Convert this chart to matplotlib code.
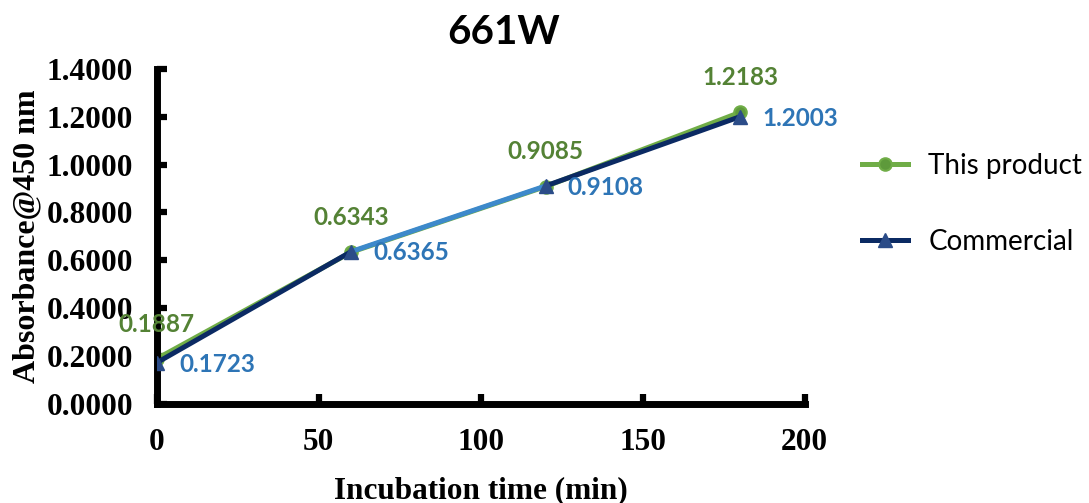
import matplotlib
matplotlib.use("Agg")
import matplotlib.pyplot as plt

times = [0, 60, 120, 180]
this_product = [0.1887, 0.6343, 0.9085, 1.2183]
commercial = [0.1723, 0.6365, 0.9108, 1.2003]
# the commercial line in the original has a lighter middle segment
commercial_seg_colors = ["#0B2A63", "#3D89CB", "#0B2A63"]
y_ticks = [0.0, 0.2, 0.4, 0.6, 0.8, 1.0, 1.2, 1.4]
x_ticks = [0, 50, 100, 150, 200]

GREEN = "#70AD47"
GREEN_DARK = "#5E9A3B"
GREEN_TXT = "#548235"
NAVY = "#0B2A63"
NAVY_MK = "#2B4C88"
BLUE_TXT = "#2E75B6"

serif = "Liberation Serif"
sans = "Lato"

fig = plt.figure(figsize=(10.89, 5.03), dpi=100)
ax = fig.add_axes([0.144, 0.197, 0.595, 0.666])

ax.plot(times, this_product, color=GREEN, lw=3.6, marker="o", ms=9,
        mfc=GREEN_DARK, mec=GREEN, mew=1.5, label="This product", zorder=2)
for i in range(len(times) - 1):
    ax.plot(times[i:i + 2], commercial[i:i + 2], color=commercial_seg_colors[i],
            lw=3.6, solid_capstyle="butt", zorder=3)
ax.plot(times, commercial, ls="none", marker="^", ms=10, mfc=NAVY_MK,
        mec=NAVY_MK, zorder=4)
# legend proxy
ax.plot([], [], color=NAVY, lw=3.6, marker="^", ms=10, mfc=NAVY_MK,
        mec=NAVY_MK, label="Commercial")

for t, v in zip(times, this_product):
    ax.annotate(f"{v:.4f}", (t, v), xytext=(0, 25), textcoords="offset points",
                ha="center", va="center", color=GREEN_TXT, fontsize=17.5,
                fontweight="bold", family=sans, zorder=5)
for t, v in zip(times, commercial):
    ax.annotate(f"{v:.4f}", (t, v), xytext=(16, -1), textcoords="offset points",
                ha="left", va="center", color=BLUE_TXT, fontsize=17.5,
                fontweight="bold", family=sans, zorder=5)

ax.set_xlim(0, 200)
ax.set_ylim(0, 1.4)
ax.set_xticks(x_ticks)
ax.set_yticks(y_ticks)
ax.set_yticklabels([f"{v:.4f}" for v in y_ticks])
for s in ["top", "right"]:
    ax.spines[s].set_visible(False)
for s in ["left", "bottom"]:
    ax.spines[s].set_linewidth(5)
ax.tick_params(direction="in", length=7, width=4.5, pad=17)
for lab in ax.get_xticklabels() + ax.get_yticklabels():
    lab.set_family(serif)
    lab.set_fontweight("bold")
    lab.set_fontsize(22.5)

ax.set_xlabel("Incubation time (min)", family=serif, fontweight="bold",
              fontsize=22.5, labelpad=14)
ax.set_ylabel("Absorbance@450 nm", family=serif, fontweight="bold",
              fontsize=23, labelpad=4)
fig.text(0.462, 0.935, "661W", family=sans, fontweight="bold", fontsize=29,
         ha="center", va="center")

leg = ax.legend(loc="center left", bbox_to_anchor=(1.088, 0.597), frameon=False,
                prop={"family": sans, "size": 20}, labelspacing=1.8,
                handlelength=1.65, handletextpad=0.75, borderpad=0, borderaxespad=0)

fig.savefig("out.png", dpi=100)
